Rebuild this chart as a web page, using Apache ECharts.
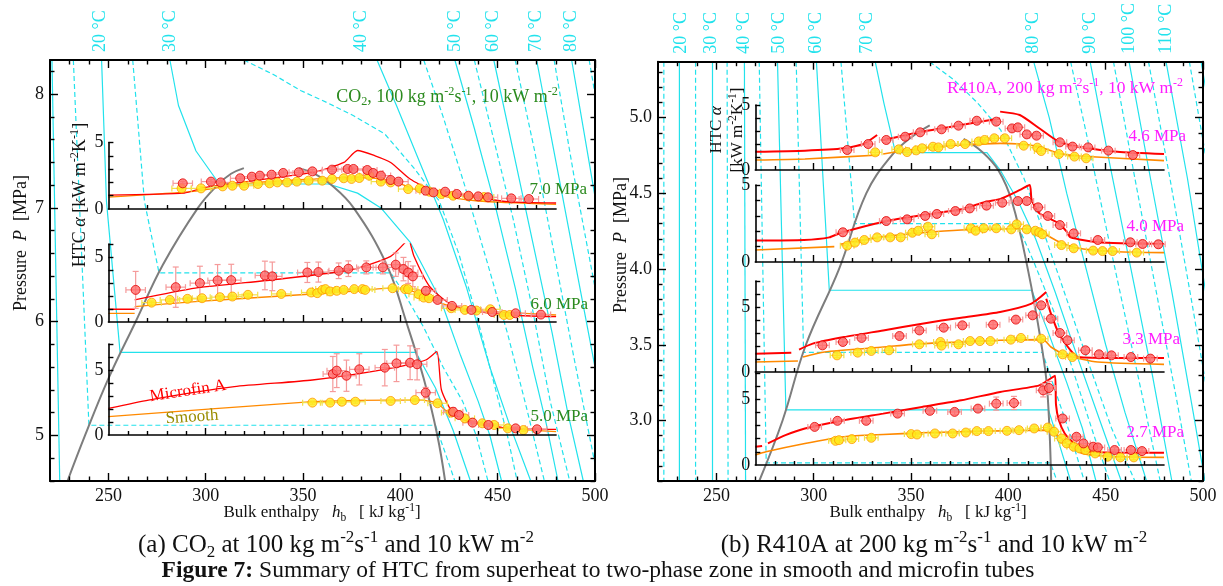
<!DOCTYPE html>
<html lang="en">
<head>
<meta charset="UTF-8">
<title>Figure 7</title>
<script src="https://cdn.jsdelivr.net/npm/echarts@6/dist/echarts.min.js"></script>
<style>
html, body { margin: 0; padding: 0; background: #fff; }
#main { width: 1223px; height: 586px; }
</style>
</head>
<body>
<div id="main"></div>
<script>
// ---------- axis ticks / labels ----------
var hMajor = [250, 300, 350, 400, 450, 500];
var hMinor = [230, 240, 260, 270, 280, 290, 310, 320, 330, 340, 360, 370, 380, 390, 410, 420, 430, 440, 460, 470, 480, 490];
var pMajorA = [5, 6, 7, 8];
var pMinorA = [4.6, 4.8, 5.2, 5.4, 5.6, 5.8, 6.2, 6.4, 6.6, 6.8, 7.2, 7.4, 7.6, 7.8, 8.2];
var pMajorB = [3.0, 3.5, 4.0, 4.5, 5.0];
var pMinorB = [2.6, 2.7, 2.8, 2.9, 3.1, 3.2, 3.3, 3.4, 3.6, 3.7, 3.8, 3.9, 4.1, 4.2, 4.3, 4.4, 4.6, 4.7, 4.8, 4.9, 5.1, 5.2, 5.3];
var insetMajor = [300, 350, 400, 450];
var insetMinorA = [260, 270, 280, 290, 310, 320, 330, 340, 360, 370, 380, 390, 410, 420, 430, 440, 460, 470];
var insetMinorB = [280, 290, 310, 320, 330, 340, 360, 370, 380, 390, 410, 420, 430, 440, 460, 470];
var htcTicks = [1, 2, 3, 4, 5, 6, 7];
var htcLabels = [0, 5];

// isotherm labels along the top edge
var tLabelA = ['20 °C', '30 °C', '40 °C', '50 °C', '60 °C', '70 °C', '80 °C'];
var tLabelHA = [246, 281.6, 379.7, 428, 447.5, 469.6, 487.6];
var tLabelB = ['20 °C', '30 °C', '40 °C', '50 °C', '60 °C', '70 °C', '80 °C', '90 °C', '100 °C', '110 °C'];
var tLabelHB = [232.2, 247.4, 264.4, 282.4, 301.4, 327.5, 413, 442.3, 462, 481];

// ---------- CO2 P-h background [h, P] ----------
var isoTA = [10, 15, 20, 25, 30, 35, 40, 45, 50, 55, 60, 65, 70, 75, 80, 85];
var isoA = [
  [[221, 8.3], [225, 4.6]],
  [[232, 8.3], [240, 5.09], [418, 5.09], [423, 4.85], [428, 4.6]],
  [[246.5, 8.3], [249, 7.06], [256, 5.73], [408, 5.73], [418, 5.42], [427, 5.05], [436, 4.6]],
  [[262.5, 8.3], [268.5, 7.06], [276, 6.43], [395, 6.43], [402, 6.25], [412, 5.95], [422, 5.6], [432, 5.3], [439, 5.0], [445, 4.6]],
  [[281.6, 8.3], [286, 7.9], [295, 7.5], [307, 7.21], [363, 7.21], [378, 7.13], [390, 7.0], [405, 6.7], [421, 6.18], [431, 5.7], [440, 5.3], [446, 5.0], [452, 4.6]],
  [[319.6, 8.3], [335, 8.17], [349, 8.03], [363, 7.92], [376, 7.81], [392, 7.65], [407, 7.35], [420, 7.06], [430, 6.6], [440, 6.0], [449, 5.4], [455, 5.0], [460, 4.6]],
  [[388, 8.3], [398, 7.9], [410, 7.4], [422, 6.9], [434, 6.3], [446, 5.6], [456, 5.1], [467, 4.6]],
  [[412, 8.3], [422, 7.8], [433, 7.2], [445, 6.5], [455, 5.9], [464, 5.3], [474, 4.6]],
  [[428, 8.3], [438, 7.7], [449, 7.0], [459, 6.3], [468, 5.6], [475, 5.1], [481, 4.6]],
  [[438, 8.3], [448, 7.6], [458, 6.9], [468, 6.1], [477, 5.3], [487, 4.6]],
  [[448, 8.3], [458, 7.5], [468, 6.7], [478, 5.9], [486, 5.2], [494, 4.6]],
  [[459, 8.3], [469, 7.5], [479, 6.6], [489, 5.7], [500, 4.75]],
  [[470, 8.3], [480, 7.4], [490, 6.5], [500, 5.6]],
  [[479, 8.3], [489, 7.3], [500, 6.3]],
  [[488, 8.3], [495, 7.6], [500, 7.1]],
  [[497, 8.3], [500, 8.0]]
];
var domeLiqA = [[229, 4.6], [238, 5.0], [250, 5.5], [264, 6.0], [278, 6.5], [296, 7.0], [306, 7.2], [313, 7.3], [319.6, 7.35]];
var domeVapA = [[348, 7.35], [356, 7.3], [364, 7.21], [376, 7.0], [393, 6.5], [403, 6.0], [412, 5.5], [419, 5.0], [423, 4.6]];

// ---------- R410A P-h background [h, P] ----------
var isoTB = [15, 20, 25, 30, 35, 40, 45, 50, 55, 60, 65, 70, 75, 80, 85, 90, 95, 100, 105, 110, 115, 120];
var isoB = [
  [[223, 5.37], [223, 2.6]],
  [[231, 5.37], [231, 2.6]],
  [[239.3, 5.37], [239.3, 2.6]],
  [[248, 5.37], [248, 2.6]],
  [[255.5, 5.37], [256, 2.6]],
  [[264.4, 5.37], [265, 2.6]],
  [[272, 5.37], [275.6, 2.72], [421.6, 2.72], [425, 2.6]],
  [[281.4, 5.37], [285.7, 3.07], [420.6, 3.07], [426, 2.85], [432, 2.6]],
  [[291, 5.37], [294.8, 3.45], [417.5, 3.45], [424, 3.2], [432, 2.9], [439, 2.6]],
  [[301.4, 5.37], [308, 3.86], [412, 3.86], [420, 3.6], [430, 3.25], [438, 2.95], [445, 2.6]],
  [[314, 5.37], [321, 4.3], [404.5, 4.3], [413, 4.05], [424, 3.7], [434, 3.3], [444, 2.9], [452, 2.6]],
  [[331.6, 5.37], [336, 5.1], [342, 4.77], [389, 4.77], [396, 4.65], [405, 4.45], [414, 4.2], [424, 3.85], [436, 3.4], [447, 3.0], [458, 2.6]],
  [[359.5, 5.37], [372, 5.25], [384, 5.1], [396, 4.92], [408, 4.6], [418, 4.25], [430, 3.8], [442, 3.35], [453, 2.95], [465, 2.6]],
  [[413, 5.37], [421, 5.0], [430, 4.5], [440, 4.0], [450, 3.5], [460, 3.05], [471, 2.6]],
  [[432, 5.37], [440, 4.9], [449, 4.35], [459, 3.75], [469, 3.15], [478, 2.6]],
  [[442, 5.37], [452, 4.7], [463, 4.0], [474, 3.3], [484, 2.6]],
  [[454, 5.37], [465, 4.6], [476, 3.85], [487, 3.1], [494, 2.6]],
  [[462, 5.37], [473, 4.6], [484, 3.85], [495, 3.05], [501, 2.6]],
  [[472, 5.37], [483, 4.6], [494, 3.8], [502, 3.2]],
  [[481, 5.37], [492, 4.6], [502, 3.8]],
  [[493, 5.37], [502, 4.7]],
  [[499, 5.37], [502, 5.15]]
];
var domeLiqB = [[272, 2.6], [284, 3.0], [296, 3.5], [313, 4.0], [327, 4.5], [340, 4.75], [350, 4.87], [359.6, 4.95]];
var domeVapB = [[377, 4.86], [386, 4.78], [395, 4.65], [402, 4.44], [410, 4.0], [417, 3.5], [420, 3.2], [422, 2.6]];

// ---------- CO2 insets: HTC [h, alpha(, err)] ----------
var a1Micro = [[250, 1.05], [289, 1.2], [299, 1.6], [323, 2.1], [355, 2.75], [371, 3.5], [378, 4.4], [387, 4.0], [395, 3.5], [405, 2.25], [415, 1.5], [435, 1.0], [455, 0.55], [480, 0.45]];
var a1Smooth = [[250, 0.9], [295, 1.35], [323, 1.95], [355, 2.25], [376, 2.4], [395, 2.15], [407, 1.5], [420, 1.0], [440, 0.6], [480, 0.35]];
var a1Red = [[288.2, 1.93], [302.7, 2.06], [307.7, 2.0], [317.7, 2.31], [323.7, 2.43], [327.8, 2.51], [333.8, 2.58], [339.8, 2.71], [347.8, 2.76], [354.8, 2.83], [364.9, 2.96], [372.9, 3.01], [375.9, 3.01], [383, 2.93], [386, 2.71], [390, 2.51], [395, 2.18], [399, 2.06], [413, 1.38], [417, 1.25], [423, 1.3], [429, 1.13], [435, 1.0], [440, 0.95], [445, 0.88], [457, 0.8], [466, 0.75]];
var a1Yel = [[287.6, 1.55], [297.6, 1.55], [308.7, 1.7], [313.7, 1.75], [319.7, 1.75], [326.8, 1.88], [332.8, 1.93], [336.8, 2.0], [341.8, 2.0], [346.8, 2.06], [352.8, 2.13], [359.9, 2.13], [364.9, 2.26], [370.9, 2.31], [374.9, 2.26], [378.9, 2.33], [384, 2.51], [390, 2.06], [395, 2.0], [404, 1.5], [410, 1.55], [415, 1.3], [421, 1.13], [427.1, 1.0], [435, 0.95], [443, 0.9]];

var a2MicroLiq = [[250, 0.98], [263.5, 0.98]];
var a2Micro = [[263.5, 1.7], [294.6, 2.6], [334.8, 3.25], [374.9, 4.02], [395, 5.05], [403, 6.2], [404, 6.47], [407, 5.05], [415, 2.73], [425.1, 1.44], [435.1, 0.93], [455.2, 0.54], [480, 0.41]];
var a2SmoothLiq = [[250, 0.67], [263.5, 0.67]];
var a2Smooth = [[263.5, 1.19], [294.6, 1.57], [334.8, 1.96], [374.9, 2.35], [395, 2.6], [403, 2.53], [411, 2.09], [421, 1.44], [435, 0.93], [480, 0.54]];
var a2Red = [[264, 2.47, 1.42], [284.6, 2.68, 1.55], [297, 2.99, 1.3], [306.1, 3.2, 1.22], [313.1, 3.22, 1.22], [330.4, 3.58, 1.1], [334.2, 3.51, 1.1], [352.2, 3.81, 0.77], [357.9, 3.84, 0.77], [368.3, 3.94, 0.6], [373.3, 4.1, 0.6], [382.5, 4.2, 0.5], [391, 4.2, 0.5], [397.6, 4.41, 0.9], [401.6, 4.07, 0.9], [404, 3.81, 0.84], [406.4, 3.51, 0.8], [413.1, 2.4, 0.3], [419.1, 1.7, 0.2], [426.5, 1.24, 0.15], [436.5, 0.93, 0.1], [447.2, 0.77, 0.1], [459.2, 0.67, 0.1], [472.2, 0.57, 0.1]];
var a2Yel = [[272.2, 1.49], [281.6, 1.7], [290.6, 1.78], [298.1, 1.83], [307.3, 1.91], [313.7, 1.96], [321.7, 2.09], [338.8, 2.16], [354.2, 2.27], [357.3, 2.22], [359.9, 2.47], [361.5, 2.53], [363.9, 2.35], [367.3, 2.4], [370.9, 2.47], [376.3, 2.53], [380.5, 2.53], [381.9, 2.47], [396, 2.6], [402.4, 2.53], [404, 2.53], [409.4, 2.14], [412, 1.88], [414.7, 1.83], [426.1, 1.06], [433.1, 0.93], [439.1, 0.88], [446.2, 0.98], [453.2, 0.54], [456.2, 0.54]];

var a3Micro = [[250, 2.05], [270.6, 2.69], [314.7, 3.72], [354.8, 4.23], [395, 5.13], [413, 5.77], [418.7, 6.41], [421.1, 3.46], [427.1, 1.67], [435.1, 1.03], [455.2, 0.51], [480, 0.44]];
var a3Smooth = [[250, 1.41], [354.8, 2.56], [395, 2.69], [411, 2.69], [419, 2.44], [423, 1.92], [435, 1.15], [455, 0.51], [480, 0.26]];
var a3Red = [[365.3, 4.69, 1.35], [367.3, 4.95, 1.3], [372.3, 4.56, 1.2], [378.9, 5.05, 1.2], [392, 5.18, 1.4], [398, 5.51, 1.4], [405, 5.56, 1.3], [408.6, 5.44, 1.2], [413, 3.26, 0.4], [427.1, 1.79, 0.3], [430.1, 1.54, 0.2], [437.1, 0.95, 0.1], [445.2, 0.77, 0.1], [459.2, 0.51, 0.1], [470.2, 0.44, 0.1]];
var a3Yel = [[354.8, 2.49], [363.9, 2.49], [369.9, 2.56], [376.9, 2.56], [395, 2.62], [407.4, 2.69], [419.1, 2.44], [426.1, 1.72], [433.1, 1.28], [442.1, 0.9], [448.2, 0.77], [455.2, 0.51], [463.2, 0.38]];

// ---------- R410A insets ----------
var b1MicroLiq = [[270, 1.41], [295.5, 1.49], [315.6, 1.67], [325.6, 2.0], [332.6, 2.69]];
var b1MicroTp = [[335.7, 2.31], [355.7, 2.95], [375.8, 3.46], [395.8, 3.97]];
var b1MicroVap = [[395.8, 4.49], [405.9, 4.23], [415.9, 3.21], [425.9, 2.18], [436, 1.79], [456, 1.41], [480, 1.23]];
var b1SmoothLiq = [[270, 0.77], [295.5, 0.85], [333.6, 1.15]];
var b1Smooth = [[335.7, 1.23], [355.7, 1.67], [375.8, 1.92], [395.8, 2.05], [405.9, 2.0], [415.9, 1.79], [425.9, 1.28], [436, 1.08], [480, 0.72]];
var b1Red = [[317.2, 1.54], [328, 2.0], [337.3, 2.31], [347, 2.56], [354.7, 2.9], [365.7, 3.13], [374.4, 3.41], [383.8, 3.79], [393.8, 3.72], [401.9, 3.2], [404.9, 3.28], [409.5, 2.74], [414.5, 2.64], [426.5, 2.13], [433, 1.8], [441, 1.74], [451.4, 1.49], [464, 1.15]];
var b1Yel = [[331.6, 1.36], [343.7, 1.59], [348, 1.38], [352.7, 1.51], [355.7, 1.67], [361.3, 1.79], [364.1, 1.74], [370.4, 2.0], [377.8, 2.0], [384.8, 2.2], [387.8, 2.31], [392.8, 2.44], [398.2, 2.44], [407.9, 1.87], [414.9, 1.72], [416.9, 1.46], [426, 1.23], [434, 1.03], [440, 0.9]];

var b2Micro = [[270, 1.39], [295, 1.43], [308, 1.6], [314, 1.9], [336, 2.62], [356, 3.05], [376, 3.42], [388, 3.9], [396, 4.1], [406, 4.68], [411, 5.0], [412, 4.03], [416, 3.16], [426, 2.51], [430, 1.97], [432, 1.6], [446, 1.28], [480, 1.17]];
var b2SmoothLiq = [[270, 0.78], [310.6, 1.0]];
var b2Smooth = [[313.6, 1.15], [335.7, 1.65], [355.7, 1.9], [375.8, 2.08], [395.8, 2.14], [409.9, 2.14], [417.9, 1.86], [426, 1.32], [436, 0.89], [456, 0.67], [480, 0.61]];
var b2Red = [[315, 1.93], [337.3, 2.66], [348, 2.77], [357.3, 2.99], [363.3, 3.12], [372.8, 3.31], [380.2, 3.48], [388.8, 3.66], [396.9, 3.85], [404.9, 3.96], [409.5, 3.96], [415.3, 3.55], [420.3, 2.99], [426.5, 2.4], [433.6, 1.86], [446, 1.43], [462.7, 1.28], [469, 1.17], [477.1, 1.15]];
var b2Yel = [[317.2, 1.06], [321.2, 1.26], [326, 1.43], [332.6, 1.6], [339.3, 1.6], [344.7, 1.6], [350.7, 1.9], [353.7, 2.03], [358.7, 2.29], [360.7, 1.8], [380.8, 2.19], [383.2, 2.03], [387.4, 2.19], [393.8, 2.19], [401.5, 2.12], [404.3, 2.45], [409.5, 2.12], [413.9, 2.03], [415.9, 1.93], [417.5, 1.8], [427.3, 1.1], [433.6, 0.89], [443.6, 0.74], [448.4, 0.71], [453.6, 0.71], [466, 0.61]];

var b3MicroLiq = [[270, 1.41], [288.5, 1.49]];
var b3Micro = [[292.5, 1.72], [299.5, 2.18], [315.6, 2.69], [335.7, 3.2], [355.7, 3.72], [375.8, 4.18], [395.8, 4.62], [411.9, 5.26], [419.5, 6.15]];
var b3MicroVap = [[419.5, 5.64], [421.9, 4.49], [426, 2.95], [432, 1.67], [436, 1.15], [456, 1.08], [480, 1.08]];
var b3SmoothLiq = [[270, 0.77], [291.9, 0.85]];
var b3Smooth = [[294.5, 1.15], [305.6, 1.54], [335.7, 1.92], [355.7, 2.18], [375.8, 2.31], [395.8, 2.44], [417.9, 2.49], [421.9, 1.92], [430, 1.28], [446, 0.77], [480, 0.59]];
var b3Red = [[304.5, 2.05], [315, 2.31], [324.6, 2.62], [344.1, 2.77], [354.3, 3.2], [366.8, 3.41], [376.4, 3.59], [392.2, 3.64], [403.9, 4.03], [412.5, 4.36], [416.9, 5.13], [421.9, 4.1], [426.5, 3.0], [430.4, 2.44], [439.6, 1.67], [446.6, 1.36], [453, 1.28], [463, 1.15], [473, 1.03]];
var b3Yel = [[312, 1.28], [322.6, 1.49], [329.6, 1.62], [338.7, 1.67], [354.3, 2.13], [365.1, 2.31], [365.7, 2.03], [374.4, 2.13], [380.4, 2.38], [385.4, 2.38], [390.8, 2.38], [401.3, 2.49], [406.5, 2.62], [416.9, 2.56], [427.9, 1.36], [432.9, 1.15]];

var b4MicroLiq = [[270, 1.39], [273.5, 1.45]];
var b4Micro = [[276.5, 1.64], [285.5, 2.27], [295.5, 2.78], [315.6, 3.41], [335.7, 3.91], [355.7, 4.42], [375.8, 4.92], [395.8, 5.56], [415.9, 6.06], [424, 6.8], [424.5, 4.6], [426, 3.4], [429, 2.4], [434, 1.64], [440, 1.05], [455, 0.95], [480, 0.93]];
var b4Smooth = [[270, 0.76], [275.5, 1.01], [295.5, 1.64], [315.6, 2.15], [335.7, 2.32], [355.7, 2.45], [375.8, 2.53], [395.8, 2.6], [419.9, 2.65], [422.9, 2.53], [430, 1.64], [438, 0.88], [456, 0.63], [480, 0.58]];
var b4Red = [[300.5, 2.9], [312.2, 3.36], [327, 3.36], [343.1, 3.91], [359.7, 4.12], [372.4, 4.04], [384.4, 4.29], [393.8, 4.67, 0.5], [402.9, 4.72, 0.5], [417.9, 5.68, 0.5], [420.9, 5.86, 0.5], [427.9, 3.54], [435, 2.15], [438.6, 1.64], [443.6, 1.39], [446, 1.34], [454.6, 1.14], [463, 1.14], [468.7, 1.06]];
var b4Yel = [[311.2, 1.84], [313, 1.89], [319.6, 1.97], [329.6, 2.07], [350.1, 2.35], [353.1, 2.32], [362.3, 2.4], [371.4, 2.4], [378.2, 2.47], [383.8, 2.58], [389.8, 2.58], [399.3, 2.6], [405.5, 2.65], [413.3, 2.78], [420.3, 2.85], [423.5, 2.53], [427.3, 2.02], [430, 1.64], [433.6, 1.39], [436.6, 1.26], [439.6, 1.14], [444.6, 0.88], [451, 0.63], [457.6, 0.58], [464.5, 0.58]];

// ---------- styling ----------
var FONT = '"Liberation Serif", "Times New Roman", serif';
var CYAN = '#22e2ec';
var GREEN = '#2b8a1e';
var MAGENTA = '#ff1cff';
var RED = '#ff0000';
var ORANGE = '#ff8a00';

var grids = [], xAxes = [], yAxes = [], series = [], graphics = [];

function axis(o) {
  var a = {
    type: 'value', gridIndex: o.grid, position: o.pos, min: o.min, max: o.max, z: 8,
    axisLine: { show: !!o.lineW, onZero: false, lineStyle: { color: '#000', width: o.lineW || 1 } },
    axisTick: { show: !!o.ticks, inside: true, length: o.len || 4, customValues: o.ticks || [],
      lineStyle: { color: '#000', width: o.tickW || 1.4 } },
    axisLabel: { show: !!o.labels, customValues: o.labels || [], margin: o.margin || 6,
      fontFamily: FONT, fontSize: o.fs || 18, color: o.color || '#111', rotate: o.rotate || 0 },
    splitLine: { show: false }
  };
  if (o.fmt) a.axisLabel.formatter = o.fmt;
  return a;
}

function addPanel(p) {
  var g = grids.length;
  grids.push({ left: p.left, top: p.top, width: p.width, height: p.height });
  var xi = xAxes.length, yi = yAxes.length;
  var lab = {};
  p.tH.forEach(function (h, i) { lab[h] = p.tLab[i]; });
  xAxes.push(axis({ grid: g, pos: 'bottom', min: 220, max: 500, lineW: 2, ticks: hMajor, len: 8, labels: hMajor }));
  xAxes.push(axis({ grid: g, pos: 'bottom', min: 220, max: 500, ticks: hMinor, len: 4.5 }));
  xAxes.push(axis({ grid: g, pos: 'top', min: 220, max: 500, lineW: 2, ticks: hMajor, len: 8, labels: p.tH,
    rotate: -90, color: CYAN, fs: 18, margin: 8, fmt: function (v) { return lab[v] || ''; } }));
  xAxes.push(axis({ grid: g, pos: 'top', min: 220, max: 500, ticks: hMinor, len: 4.5 }));
  yAxes.push(axis({ grid: g, pos: 'left', min: p.pMin, max: p.pMax, lineW: 2, ticks: p.pMaj, len: 8, labels: p.pMaj, fmt: p.fmt }));
  yAxes.push(axis({ grid: g, pos: 'left', min: p.pMin, max: p.pMax, ticks: p.pMinor, len: 4.5 }));
  yAxes.push(axis({ grid: g, pos: 'right', min: p.pMin, max: p.pMax, lineW: 2, ticks: p.pMaj, len: 8 }));
  yAxes.push(axis({ grid: g, pos: 'right', min: p.pMin, max: p.pMax, ticks: p.pMinor, len: 4.5 }));
  return { xi: xi, yi: yi };
}

function addInset(r) {
  var g = grids.length;
  grids.push({ left: r.left, top: r.top, width: r.width, height: r.height });
  var xi = xAxes.length, yi = yAxes.length;
  xAxes.push(axis({ grid: g, pos: 'bottom', min: r.hMin, max: 480, lineW: 1.6, ticks: insetMajor, len: 7 }));
  xAxes.push(axis({ grid: g, pos: 'bottom', min: r.hMin, max: 480, ticks: r.minor, len: 4 }));
  yAxes.push(axis({ grid: g, pos: 'left', min: 0, max: r.yMax, lineW: 1.6, len: 5, margin: 5,
    ticks: htcTicks.filter(function (v) { return v <= r.yMax; }), labels: htcLabels }));
  return { xi: xi, yi: yi };
}

function line(ax, data, color, width, z, dash, smooth) {
  series.push({ type: 'line', xAxisIndex: ax.xi, yAxisIndex: ax.yi, data: data, symbol: 'none',
    smooth: smooth || false, silent: true, animation: false, z: z,
    lineStyle: { color: color, width: width, type: dash ? [5, 3] : 'solid' } });
}

function errBars(ax, pts, dh, dErr, color) {
  series.push({
    type: 'custom', xAxisIndex: ax.xi, yAxisIndex: ax.yi, data: pts, z: 5, silent: true, animation: false,
    encode: { x: 0, y: 1 },
    renderItem: function (params, api) {
      var h = api.value(0), a = api.value(1);
      var e = pts[params.dataIndex][2] || dErr;
      var c = api.coord([h, a]), t = api.coord([h, a + e]), b = api.coord([h, a - e]);
      var l = api.coord([h - dh, a]), r = api.coord([h + dh, a]);
      var st = { stroke: color, lineWidth: 1.2 };
      return { type: 'group', children: [
        { type: 'line', shape: { x1: c[0], y1: t[1], x2: c[0], y2: b[1] }, style: st },
        { type: 'line', shape: { x1: c[0] - 3, y1: t[1], x2: c[0] + 3, y2: t[1] }, style: st },
        { type: 'line', shape: { x1: c[0] - 3, y1: b[1], x2: c[0] + 3, y2: b[1] }, style: st },
        { type: 'line', shape: { x1: l[0], y1: c[1], x2: r[0], y2: c[1] }, style: st },
        { type: 'line', shape: { x1: l[0], y1: c[1] - 3, x2: l[0], y2: c[1] + 3 }, style: st },
        { type: 'line', shape: { x1: r[0], y1: c[1] - 3, x2: r[0], y2: c[1] + 3 }, style: st }
      ] };
    }
  });
}

function dots(ax, pts, fill, border, size) {
  series.push({ type: 'scatter', xAxisIndex: ax.xi, yAxisIndex: ax.yi, data: pts, z: 6, silent: true,
    animation: false, symbolSize: size, itemStyle: { color: fill, borderColor: border, borderWidth: 1 } });
}

function inset(ax, micro, smooth, red, yel, o) {
  smooth.forEach(function (s) { line(ax, s, ORANGE, o.ow, 4, false, 0.2); });
  micro.forEach(function (s) { line(ax, s, RED, o.rw, 4, false, 0.2); });
  errBars(ax, yel, o.dh, o.ey, '#f2e04a');
  errBars(ax, red, o.dh, o.er, '#f59a9a');
  dots(ax, yel, '#ffe81a', '#ff9a00', o.size);
  dots(ax, red, '#ff6a6a', '#e20000', o.size);
}

// ---------- panel (a) CO2 ----------
var A = addPanel({ left: 50, top: 60, width: 545, height: 421, pMin: 4.6, pMax: 8.3,
  pMaj: pMajorA, pMinor: pMinorA, tH: tLabelHA, tLab: tLabelA });
isoA.forEach(function (pts, i) { line(A, pts, CYAN, 1.2, 1, isoTA[i] % 10 === 5); });
line(A, domeLiqA, '#7d7d7d', 2, 2, false, 0.4);
line(A, domeVapA, '#7d7d7d', 2, 2, false, 0.4);

var optA = { rw: 1.3, ow: 1.3, dh: 5, ey: 0.12, er: 0.15, size: 9 };
var A1 = addInset({ left: 108.4, top: 142.5, width: 447.7, height: 66.5, hMin: 250, yMax: 5, minor: insetMinorA });
inset(A1, [a1Micro], [a1Smooth], a1Red, a1Yel, optA);
var A2 = addInset({ left: 108.4, top: 244, width: 447.7, height: 78, hMin: 250, yMax: 6, minor: insetMinorA });
inset(A2, [a2MicroLiq, a2Micro], [a2SmoothLiq, a2Smooth], a2Red, a2Yel, optA);
var A3 = addInset({ left: 108.4, top: 344, width: 447.7, height: 91, hMin: 250, yMax: 7, minor: insetMinorA });
inset(A3, [a3Micro], [a3Smooth], a3Red, a3Yel, optA);

// ---------- panel (b) R410A ----------
var B = addPanel({ left: 658, top: 59, width: 545, height: 422, pMin: 2.6, pMax: 5.37,
  pMaj: pMajorB, pMinor: pMinorB, tH: tLabelHB, tLab: tLabelB, fmt: function (v) { return v.toFixed(1); } });
isoB.forEach(function (pts, i) { line(B, pts, CYAN, 1.2, 1, isoTB[i] % 10 === 5); });
line(B, domeLiqB, '#7d7d7d', 2, 2, false, 0.4);
line(B, domeVapB, '#7d7d7d', 2, 2, false, 0.4);

var optB = { rw: 2, ow: 1.6, dh: 3.5, ey: 0.18, er: 0.22, size: 9 };
var B1 = addInset({ left: 755.3, top: 105, width: 408.7, height: 65, hMin: 270, yMax: 5, minor: insetMinorB });
inset(B1, [b1MicroLiq, b1MicroTp, b1MicroVap], [b1SmoothLiq, b1Smooth], b1Red, b1Yel, optB);
var B2 = addInset({ left: 755.3, top: 185, width: 408.7, height: 77, hMin: 270, yMax: 5, minor: insetMinorB });
inset(B2, [b2Micro], [b2SmoothLiq, b2Smooth], b2Red, b2Yel, optB);
var B3 = addInset({ left: 755.3, top: 281, width: 408.7, height: 91, hMin: 270, yMax: 7, minor: insetMinorB });
inset(B3, [b3MicroLiq, b3Micro, b3MicroVap], [b3SmoothLiq, b3Smooth], b3Red, b3Yel, optB);
var B4 = addInset({ left: 755.3, top: 373, width: 408.7, height: 92, hMin: 270, yMax: 7, minor: insetMinorB });
inset(B4, [b4MicroLiq, b4Micro], [b4Smooth], b4Red, b4Yel, optB);

// ---------- texts ----------
function rich(fs, color) {
  return {
    sup: { fontSize: fs * 0.68, fontFamily: FONT, fill: color, verticalAlign: 'top', lineHeight: fs * 0.74 },
    sub: { fontSize: fs * 0.68, fontFamily: FONT, fill: color, verticalAlign: 'bottom', lineHeight: fs * 0.74 },
    it: { fontSize: fs, fontFamily: FONT, fill: color, fontStyle: 'italic', lineHeight: fs * 1.25 },
    b: { fontSize: fs, fontFamily: FONT, fill: color, fontWeight: 'bold', lineHeight: fs * 1.25 }
  };
}
function txt(x, y, text, o) {
  o = o || {};
  var fs = o.fs || 17, color = o.color || '#111';
  graphics.push({ type: 'text', x: x, y: y, rotation: o.rot || 0, z: 100, silent: true,
    style: { text: text, fontSize: fs, fontFamily: FONT, fill: color, lineHeight: fs * 1.25,
      align: o.align || 'center', verticalAlign: 'middle', rich: rich(fs, color) } });
}

txt(447, 97, 'CO{sub|2}, 100 kg m{sup|-2}s{sup|-1}, 10 kW m{sup|-2}', { color: GREEN, fs: 18 });
txt(587, 190, '7.0 MPa', { color: GREEN, align: 'right' });
txt(588, 305, '6.0 MPa', { color: GREEN, align: 'right' });
txt(588, 417, '5.0 MPa', { color: GREEN, align: 'right' });
txt(188, 391, 'Microfin A', { color: RED, rot: 0.15 });
txt(192, 417, 'Smooth', { color: '#9a8c00', rot: 0.07 });
txt(80, 195, 'HTC {it|α} [kW m{sup|-2}K{sup|-1}]', { rot: Math.PI / 2, fs: 18 });
txt(21, 243, 'Pressure  {it|P}  [MPa]', { rot: Math.PI / 2, fs: 18 });
txt(322, 513, 'Bulk enthalpy   {it|h}{sub|b}   [ kJ kg{sup|-1}]');
txt(336, 545, '(a) CO{sub|2} at 100 kg m{sup|-2}s{sup|-1} and 10 kW m{sup|-2}', { fs: 25 });

txt(1065, 88, 'R410A, 200 kg m{sup|-2}s{sup|-1}, 10 kW m{sup|-2}', { color: MAGENTA, fs: 17.5 });
txt(1186, 137, '4.6 MPa', { color: MAGENTA, align: 'right' });
txt(1184, 227, '4.0 MPa', { color: MAGENTA, align: 'right' });
txt(1180, 340, '3.3 MPa', { color: MAGENTA, align: 'right' });
txt(1184, 433, '2.7 MPa', { color: MAGENTA, align: 'right' });
txt(727, 130, 'HTC {it|α}\n[kW m{sup|-2}K{sup|-1}]', { rot: Math.PI / 2 });
txt(621, 245, 'Pressure  {it|P}  [MPa]', { rot: Math.PI / 2, fs: 18 });
txt(928, 513, 'Bulk enthalpy   {it|h}{sub|b}   [ kJ kg{sup|-1}]');
txt(934, 545, '(b) R410A at 200 kg m{sup|-2}s{sup|-1} and 10 kW m{sup|-2}', { fs: 25 });

txt(598, 571, '{b|Figure 7:} Summary of HTC from superheat to two-phase zone in smooth and microfin tubes', { fs: 23.5 });

var chart = echarts.init(document.getElementById('main'), null, { renderer: 'canvas' });
chart.setOption({
  animation: false,
  backgroundColor: '#fff',
  grid: grids,
  xAxis: xAxes,
  yAxis: yAxes,
  series: series,
  graphic: graphics
});
</script>
</body>
</html>
